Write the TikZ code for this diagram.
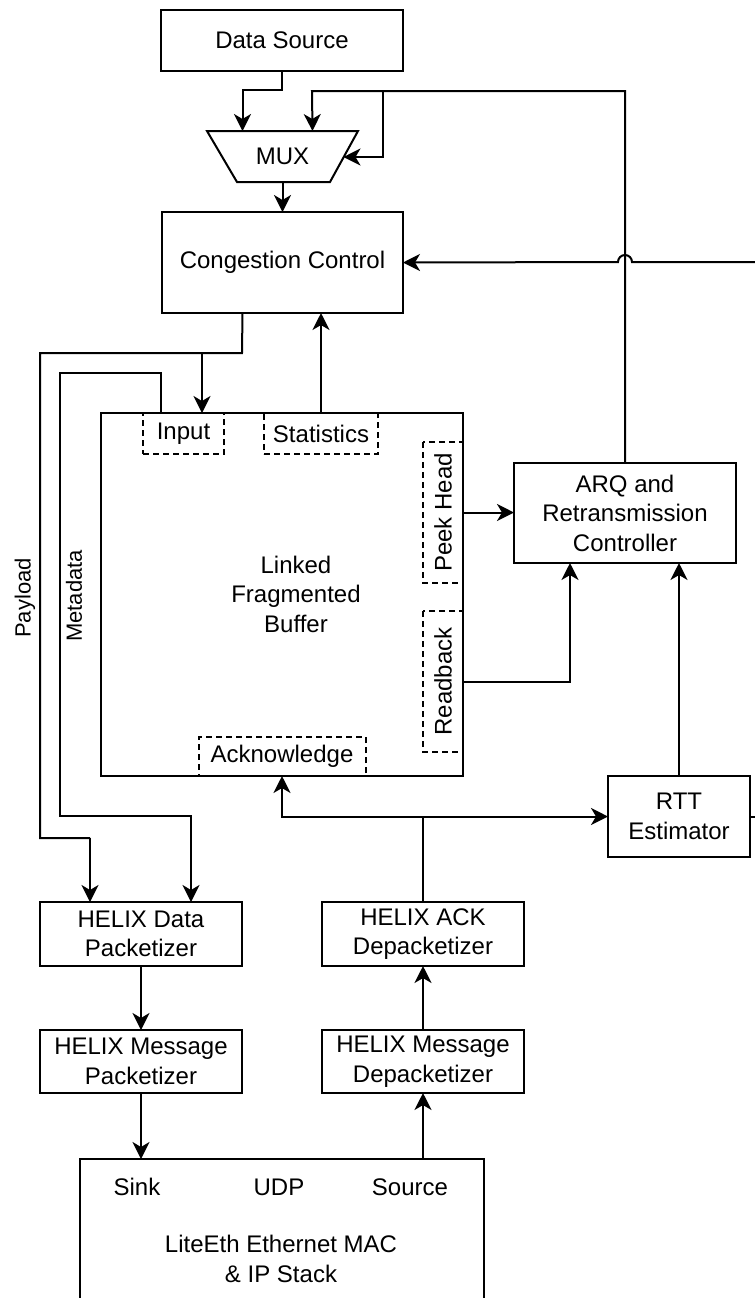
\documentclass[tikz,border=0pt]{standalone}
\usepackage{fontspec}
\setmainfont{Liberation Sans}
\usetikzlibrary{arrows.meta,calc}
\begin{document}
\begin{tikzpicture}[x=0.5pt,y=-0.5pt,
  every node/.style={font=\fontsize{12}{14.75}\selectfont, inner sep=0pt, outer sep=0pt},
  box/.style={draw, line width=1pt, rectangle, align=center},
  dbox/.style={draw, line width=1pt, rectangle, dash pattern=on 3pt off 2pt, align=center},
  wire/.style={line width=1pt},
  tip/.style={},
  arr/.style={line width=1pt, -{Stealth[length=8.5pt,width=8.5pt,inset=2.5pt]}},
  darr/.style={line width=1pt, {Stealth[length=8.5pt,width=8.5pt,inset=2.5pt]}-{Stealth[length=8.5pt,width=8.5pt,inset=2.5pt]}},
  small/.style={font=\fontsize{11}{13}\selectfont}
]
\useasboundingbox (0,0) rectangle (755,1298);
\clip (0,0) rectangle (755,1298);

% nodes
\node[box, minimum width=121pt, minimum height=30.5pt] (ds) at (282,40.5) {Data Source};
\draw[line width=1pt, line join=miter] (207,131) -- (358,131) -- (330,182) -- (237,182) -- cycle;
\node[minimum width=75.5pt, minimum height=25.5pt] (mux) at (282.5,156.5) {MUX};
\node[box, minimum width=120.5pt, minimum height=50.5pt] (cc) at (282.5,262.5) {Congestion Control};
\node[box, minimum width=181pt, minimum height=181.5pt] (buf) at (282,594.5) {};
\node[align=center] (buftxt) at (296,594) {Linked\\Fragmented\\Buffer};
\node[dbox, minimum width=40.5pt, minimum height=20.5pt] (input) at (183.5,433.5) {Input};
\node[dbox, minimum width=57pt, minimum height=20.5pt] (stats) at (321,433.5) {Statistics};
\node[dbox, rotate=90, minimum width=70.5pt, minimum height=20pt] (peek) at (443,512.5) {Peek Head};
\node[dbox, rotate=90, minimum width=70.5pt, minimum height=20pt] (readback) at (443,681.5) {Readback};
\node[dbox, minimum width=83.5pt, minimum height=19.5pt] (ack) at (282,756.5) {Acknowledge};
\node[box, minimum width=111pt, minimum height=50pt] (arq) at (625,513) {ARQ and\\Retransmission\\Controller};
\node[box, minimum width=71pt, minimum height=40.5pt] (rtt) at (679,816.5) {RTT\\Estimator};
\node[box, minimum width=101pt, minimum height=32pt] (dpk) at (141,934) {HELIX Data\\Packetizer};
\node[box, minimum width=101pt, minimum height=31.5pt] (mpk) at (141,1061.5) {HELIX Message\\Packetizer};
\node[box, minimum width=101pt, minimum height=32pt] (adp) at (423,934) {HELIX ACK\\Depacketizer};
\node[box, minimum width=101pt, minimum height=31.5pt] (mdp) at (423,1061.5) {HELIX Message\\Depacketizer};
\node[box, minimum width=202pt, minimum height=80.5pt] (eth) at (282,1239.5) {};
\node (sink) at (137,1187) {Sink};
\node (udp) at (279,1187) {UDP};
\node (src) at (410,1187) {Source};
\node[align=center] (ethtxt) at (281,1259) {LiteEth Ethernet MAC\\\& IP Stack};
\node[small, rotate=90] (lpay) at (25,598) {Payload};
\node[small, rotate=90] (lmeta) at (74,596) {Metadata};

\coordinate (muxr) at (343.5,157);
\coordinate (rin) at (755,262);
\coordinate (rout) at (755,816.5);

% connectors
\draw[arr] (ds.south) -- ++(0,19) -| ([xshift=-20pt]mux.north);
\draw[arr] (arq.north) -- (625,91) -- (312,91) -- ([xshift=15pt]mux.north);
\draw[arr] (383,91) -- (383,157) -- (muxr);
\draw[arr] (mux.south) -- (mux.south |- cc.north);
\draw[arr] (rin) -- (632,262) arc[start angle=0,end angle=180,radius=3.5pt] -- (cc.east);
\draw[wire] ([xshift=-20pt]cc.south) -- (242,353) -- (40,353) -- (40,838) -- (90,838);
\draw[arr] (90,838) -- ([xshift=-25.5pt]dpk.north);
\draw[arr] (202,353) -- ([xshift=9.25pt]input.north);
\draw[arr] ([xshift=-60.5pt]buf.north) -- (161,373) -- (60,373) -- (60,816) -- (191,816) -- ([xshift=25pt]dpk.north);
\draw[arr] (stats.north) -- (stats.north |- cc.south);
\draw[arr] (peek.south) -- (peek.south -| arq.west);
\draw[arr] (readback.south) -| ([xshift=-27.5pt]arq.south);
\draw[arr] (rtt.north) -- (rtt.north |- arq.south);
\draw[darr] (ack.south) |- (rtt.west);
\draw[wire] (adp.north) -- (adp.north |- rtt.west);
\draw[wire] (rtt.east) -- (rout);
\draw[arr] (dpk.south) -- (mpk.north);
\draw[arr] (mdp.north) -- (adp.south);
\draw[arr] (mpk.south) -- (mpk.south |- eth.north);
\draw[arr] (mdp.south |- eth.north) -- (mdp.south);
\end{tikzpicture}
\end{document}
